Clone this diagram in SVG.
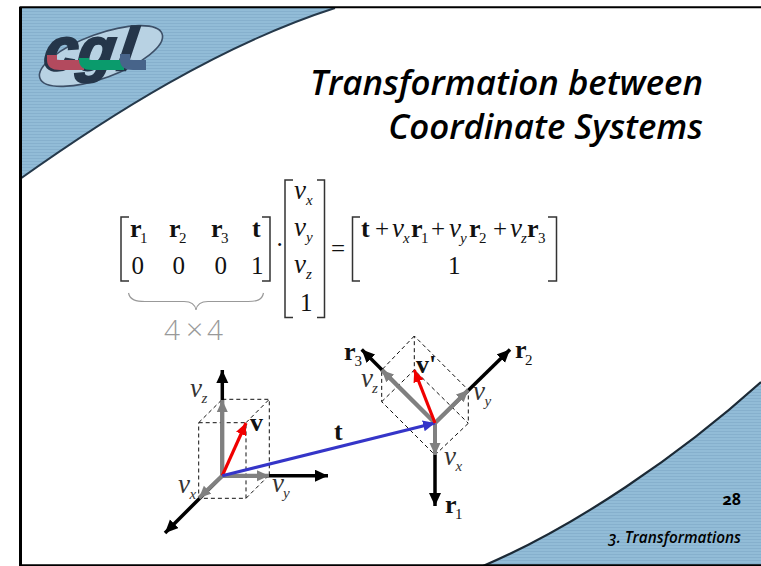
<svg xmlns="http://www.w3.org/2000/svg" width="761" height="566" viewBox="0 0 761 566">
<style>
.m{font-family:"Liberation Serif","Times New Roman",serif;fill:#111;font-size:25px}
.m tspan.s{font-size:15px;font-weight:normal;font-style:normal}
.m tspan.si{font-size:15px;font-weight:normal;font-style:italic}
.v{font-style:italic;font-size:27px}
.b{font-weight:bold;font-size:26px}
.g{fill:#333}
.br{fill:none;stroke:#333;stroke-width:1.5}
.d{fill:none;stroke:#111;stroke-width:1;stroke-dasharray:4 3}
.ax{fill:none;stroke:#000;stroke-width:3.5;marker-end:url(#ak)}
.gr{fill:none;stroke:#808080;stroke-width:4;marker-end:url(#ag)}
.ui{font-family:"Open Sans","Noto Sans",sans-serif;fill:#000}
</style>
<defs>
<pattern id="st" width="4" height="3" patternUnits="userSpaceOnUse"><rect width="4" height="3" fill="#92bcd7"/><rect y="2" width="4" height="1" fill="#86b0cd"/></pattern>
<marker id="ak" markerUnits="userSpaceOnUse" markerWidth="16" markerHeight="14" refX="13" refY="6" orient="auto"><path d="M0,0L13,6L0,12z" fill="#000"/></marker>
<marker id="ag" markerUnits="userSpaceOnUse" markerWidth="16" markerHeight="14" refX="12" refY="6" orient="auto"><path d="M0,0.5L12,6L0,11.5z" fill="#808080"/></marker>
<marker id="ar" markerUnits="userSpaceOnUse" markerWidth="16" markerHeight="14" refX="12" refY="6" orient="auto"><path d="M0,0.5L12,6L0,11.5z" fill="#f00000"/></marker>
<marker id="ab" markerUnits="userSpaceOnUse" markerWidth="16" markerHeight="14" refX="12" refY="6" orient="auto"><path d="M0,0.5L12,6L0,11.5z" fill="#3535c8"/></marker>
</defs>
<rect width="761" height="566" fill="#fff"/>
<g id="frame">
<path d="M20,179C110,115 220,45 335,8L20,8z" fill="url(#st)"/>
<path d="M483,566C575,527 680,455 761,382L761,566z" fill="url(#st)"/>
<path d="M20,179C110,115 220,45 335,8" fill="none" stroke="#25394b" stroke-width="2"/>
<path d="M483,566C575,527 680,455 761,382" fill="none" stroke="#1c2a36" stroke-width="2.2"/>
<path d="M761,7.2H20.5V565.3H761" fill="none" stroke="#000" stroke-width="2"/>
<rect x="19" y="7" width="3" height="559" fill="#000"/>
</g>
<g id="logo">
<ellipse cx="101" cy="56" rx="65" ry="22" transform="rotate(-20 101 56)" fill="#b8d2e3" stroke="#3d5068" stroke-width="1.6"/>
<g font-family="'Liberation Sans',Arial,sans-serif" font-weight="bold" font-style="italic" font-size="60" fill="#25364a" stroke="#25364a" stroke-width="2.5" transform="translate(70 70) skewX(-8) translate(-70 -70)">
<text x="42" y="70">c</text><text x="76" y="70">g</text><text x="116" y="70">l</text>
</g>
<path d="M52,55V60Q52,65 60,65H84" fill="none" stroke="#b34a5e" stroke-width="10"/>
<path d="M84,58V60Q84,65 92,65H124" fill="none" stroke="#0a9b6c" stroke-width="10"/>
<path d="M125,54V60Q125,65 133,65H146" fill="none" stroke="#47648a" stroke-width="10"/>
</g>
<g id="title" class="ui" font-style="italic" font-weight="600" font-size="34.8" text-anchor="end">
<text x="703" y="95">Transformation between</text>
<text x="703" y="139">Coordinate Systems</text>
</g>
<g id="equation">
<path class="br" d="M129,217H121V281H129M262,217H270V281H262"/>
<path class="br" d="M293,180H285V317.5H293M317,180H324.5V317.5H317"/>
<path class="br" d="M360,217H352.5V281H360M548,217H556.5V281H548"/>
<g class="m">
<text y="237" class="b"><tspan x="130">r</tspan><tspan class="s" x="140" dy="6">1</tspan></text>
<text y="237" class="b"><tspan x="169">r</tspan><tspan class="s" x="179" dy="6">2</tspan></text>
<text y="237" class="b"><tspan x="211">r</tspan><tspan class="s" x="221" dy="6">3</tspan></text>
<text x="252" y="237" class="b">t</text>
<text x="131.5" y="274">0</text><text x="172.5" y="274">0</text><text x="214.5" y="274">0</text><text x="251" y="274">1</text>
<text x="275.5" y="253">·</text>
<text y="199" class="v"><tspan x="294">v</tspan><tspan class="si" x="306" dy="6">x</tspan></text>
<text y="236" class="v"><tspan x="294">v</tspan><tspan class="si" x="306" dy="6">y</tspan></text>
<text y="273" class="v"><tspan x="294">v</tspan><tspan class="si" x="306" dy="6">z</tspan></text>
<text x="300" y="311">1</text>
<text x="331" y="257">=</text>
<text x="361" y="237" class="b">t</text><text x="375" y="237">+</text>
<text y="237" class="v"><tspan x="392">v</tspan><tspan class="si" x="403" dy="6">x</tspan></text>
<text y="237" class="b"><tspan x="411">r</tspan><tspan class="s" x="421" dy="6">1</tspan></text>
<text x="431" y="237">+</text>
<text y="237" class="v"><tspan x="449">v</tspan><tspan class="si" x="460" dy="6">y</tspan></text>
<text y="237" class="b"><tspan x="469">r</tspan><tspan class="s" x="479" dy="6">2</tspan></text>
<text x="493" y="237">+</text>
<text y="237" class="v"><tspan x="510">v</tspan><tspan class="si" x="521" dy="6">z</tspan></text>
<text y="237" class="b"><tspan x="527">r</tspan><tspan class="s" x="538" dy="6">3</tspan></text>
<text x="448" y="274">1</text>
</g>
<path d="M128.5,293C130,300 136,301.5 145,301.5H184C191,301.5 195,304 196,310C197,304 201,301.5 208,301.5H248C257,301.5 262,300 263.5,293" fill="none" stroke="#999" stroke-width="1.2"/>
<g class="ui" style="fill:#999" font-weight="300" font-size="28"><text x="164" y="340">4</text><text x="186" y="340" font-size="30">×</text><text x="207" y="340">4</text></g>
</g>
<g id="connectors">
<path class="d" d="M198.7,422.7H246V498.3H198.7ZM222.3,399.3H269.3V475M198.7,422.7L222.3,399.3M246,422.7L269.3,399.3M246,498.3L269.3,475"/>
<path class="d" d="M414.3,336L381.7,370V401.7L435,455L468.3,423.3V390L414.3,336V370M381.7,401.7L414.3,370L468.3,423.3"/>
<path class="ax" d="M222.3,476V370"/>
<path class="ax" d="M222.3,475.7H328"/>
<path class="ax" d="M222.3,475.7L165,533"/>
<path class="gr" d="M222.3,475.7V400"/>
<path class="gr" d="M222.3,475.7H269"/>
<path class="gr" d="M222.3,475.7L199,498"/>
<path d="M222.3,475.7L246,423" fill="none" stroke="#f00000" stroke-width="3.2" marker-end="url(#ar)"/>
<path class="ax" d="M435,423V506"/>
<path class="ax" d="M435,423L510,349.5"/>
<path class="ax" d="M435,423L361.7,349.5"/>
<path class="gr" d="M435,423V455"/>
<path class="gr" d="M435,423L468.3,390"/>
<path class="gr" d="M435,423L381.7,370"/>
<path d="M222.3,475.7L435,423" fill="none" stroke="#3535c8" stroke-width="3.2" marker-end="url(#ab)"/>
<path d="M435,423L414.3,370" fill="none" stroke="#f00000" stroke-width="3.2" marker-end="url(#ar)"/>
</g>
<g id="labels" class="m">
<text y="397" class="v g"><tspan x="190">v</tspan><tspan class="si" x="201.5" dy="6">z</tspan></text>
<text y="493" class="v g"><tspan x="178">v</tspan><tspan class="si" x="189.5" dy="6">x</tspan></text>
<text y="492" class="v g"><tspan x="272">v</tspan><tspan class="si" x="283" dy="6">y</tspan></text>
<text y="387" class="v g"><tspan x="361">v</tspan><tspan class="si" x="372" dy="6">z</tspan></text>
<text y="400" class="v g"><tspan x="473">v</tspan><tspan class="si" x="484.5" dy="6">y</tspan></text>
<text y="465" class="v g"><tspan x="444">v</tspan><tspan class="si" x="455.5" dy="6">x</tspan></text>
<text x="250" y="431" class="b">v</text><text x="416" y="373" class="b">v'</text><text x="334" y="440" class="b">t</text>
<text y="360" class="b"><tspan x="344">r</tspan><tspan class="s" x="354.5" dy="6">3</tspan></text>
<text y="358" class="b"><tspan x="515">r</tspan><tspan class="s" x="525" dy="7">2</tspan></text>
<text y="513" class="b"><tspan x="445">r</tspan><tspan class="s" x="455" dy="6">1</tspan></text>
</g>
<g id="footer" class="ui">
<text x="741" y="505" font-size="16" font-weight="700" text-anchor="end" style="font-variant-numeric:oldstyle-nums">28</text>
<text x="741" y="543" font-size="15.3" font-style="italic" font-weight="600" text-anchor="end" style="font-variant-numeric:oldstyle-nums">3. Transformations</text>
</g>
</svg>
